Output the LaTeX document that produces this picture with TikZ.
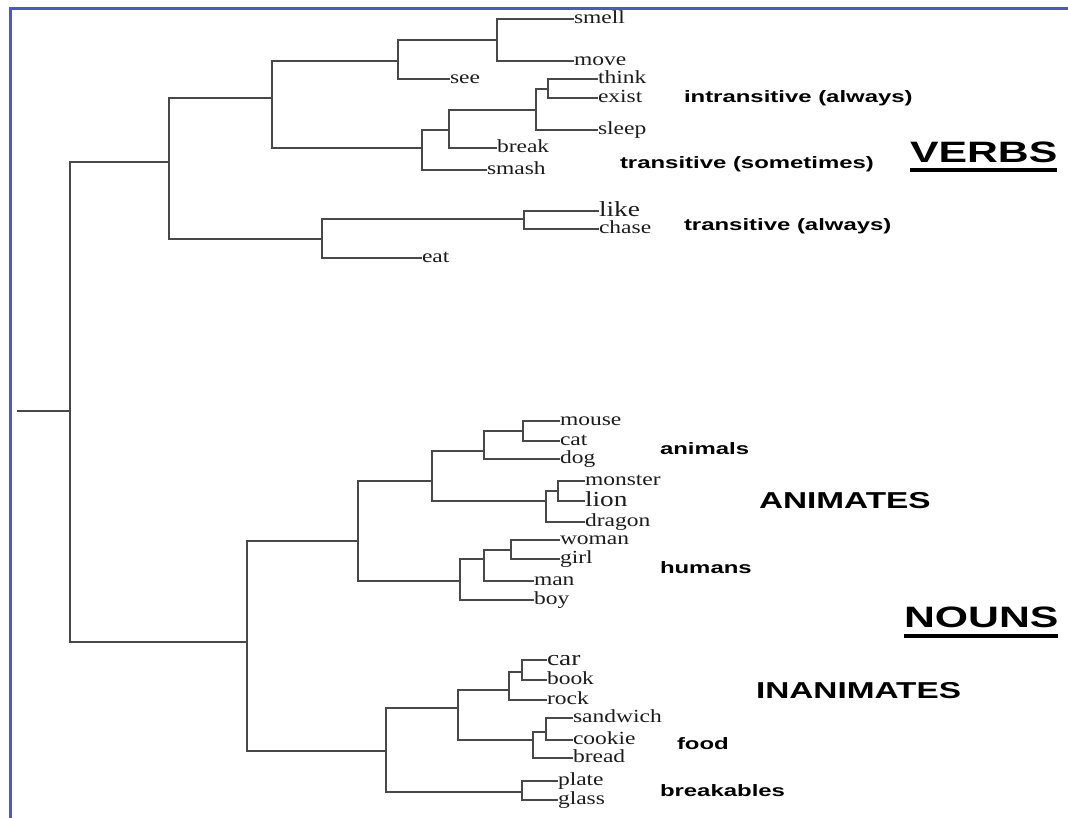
\documentclass[tikz,border=0pt]{standalone}
\usepackage{fontspec}
\newfontfamily\leaffont[FakeStretch=1.27]{Liberation Serif}
\newfontfamily\tagfont[FakeStretch=1.45]{Liberation Sans}
\definecolor{frameblue}{RGB}{80,88,186}
\definecolor{treegrey}{RGB}{72,72,72}
\definecolor{leafgrey}{RGB}{28,28,28}
\tikzset{
  branch/.style={draw=treegrey, line width=1.7pt},
  leaf/.style={anchor=west, inner sep=0pt, outer sep=0pt, text=leafgrey,
    font=\leaffont\fontsize{18.5}{18.5}\selectfont, text height=10pt, text depth=0.5pt},
  bigleaf/.style={leaf, font=\leaffont\fontsize{21.5}{21.5}\selectfont, text height=11pt},
  tag/.style={anchor=west, inner sep=0pt, outer sep=0pt, text=black,
    font=\tagfont\bfseries\fontsize{16.5}{16.5}\selectfont, text height=12pt, text depth=0pt},
  bigtag/.style={tag, font=\tagfont\bfseries\fontsize{23}{23}\selectfont, text height=16.5pt},
  hugetag/.style={tag, font=\tagfont\bfseries\fontsize{29.5}{29.5}\selectfont, text height=21pt},
  rule/.style={draw=black, line width=4pt},
}
\begin{document}
\begin{tikzpicture}[x=1pt, y=-1pt]
\useasboundingbox (0,0) rectangle (1068,818);

% frame
\draw[frameblue, line width=2.5pt] (1068,8.5) -- (10.5,8.5) -- (10.5,818);

% ---------- verb leaves ----------
\node[leaf] (smell) at (574,19) {smell};
\node[leaf] (move)  at (574,61) {move};
\node[leaf] (see)   at (450,79) {see};
\node[leaf] (think) at (598,79) {think};
\node[leaf] (exist) at (598,98) {exist};
\node[leaf] (sleep) at (598,130) {sleep};
\node[leaf] (break) at (497,148) {break};
\node[leaf] (smash) at (487,170) {smash};
\node[bigleaf] (like)  at (599,211) {like};
\node[leaf] (chase) at (599,229) {chase};
\node[leaf] (eat)   at (422,258) {eat};

% verb junctions
\coordinate (vsm)    at (497,40);
\coordinate (vsee)   at (398,61);
\coordinate (vte)    at (548,89);
\coordinate (vtes)   at (536,110);
\coordinate (vbreak) at (449,130);
\coordinate (vsmash) at (422,148);
\coordinate (vintr)  at (272,98);
\coordinate (vlike)  at (524,219);
\coordinate (veat)   at (322,239);
\coordinate (vverbs) at (169,162);

\draw[branch] (smell.west) -| (vsm) |- (move.west);
\draw[branch] (vsm) -| (vsee) |- (see.west);
\draw[branch] (think.west) -| (vte) |- (exist.west);
\draw[branch] (vte) -| (vtes) |- (sleep.west);
\draw[branch] (vtes) -| (vbreak) |- (break.west);
\draw[branch] (vbreak) -| (vsmash) |- (smash.west);
\draw[branch] (vsee) -| (vintr) |- (vsmash);
\draw[branch] (like.west) -| (vlike) |- (chase.west);
\draw[branch] (vlike) -| (veat) |- (eat.west);
\draw[branch] (vintr) -| (vverbs) |- (veat);

% ---------- noun leaves ----------
\node[leaf] (mouse)   at (560,421) {mouse};
\node[leaf] (cat)     at (560,441) {cat};
\node[leaf] (dog)     at (560,459) {dog};
\node[leaf] (monster) at (585,481) {monster};
\node[bigleaf] (lion) at (585,501) {lion};
\node[leaf] (dragon)  at (585,522) {dragon};
\node[leaf] (woman)   at (560,540) {woman};
\node[leaf] (girl)    at (560,559) {girl};
\node[leaf] (man)     at (534,581) {man};
\node[leaf] (boy)     at (534,600) {boy};
\node[bigleaf] (car)  at (547,660) {car};
\node[leaf] (book)    at (547,680) {book};
\node[leaf] (rock)    at (547,700) {rock};
\node[leaf] (sandwich) at (573,718) {sandwich};
\node[leaf] (cookie)  at (573,740) {cookie};
\node[leaf] (bread)   at (573,758) {bread};
\node[leaf] (plate)   at (558,781) {plate};
\node[leaf] (glass)   at (558,800) {glass};

% noun junctions
\coordinate (nmc)    at (523,431);
\coordinate (ndog)   at (484,451);
\coordinate (nml)    at (558,491);
\coordinate (ndr)    at (546,501);
\coordinate (nanim)  at (432,481);
\coordinate (nwg)    at (511,550);
\coordinate (nman)   at (484,559);
\coordinate (nhum)   at (460,581);
\coordinate (nanimates) at (358,541);
\coordinate (ncb)    at (522,672);
\coordinate (nrock)  at (509,690);
\coordinate (nsc)    at (546,732);
\coordinate (nbread) at (533,740);
\coordinate (nfood)  at (458,708);
\coordinate (npg)    at (522,792);
\coordinate (ninan)  at (386,751);
\coordinate (nnouns) at (247,642);

\draw[branch] (mouse.west) -| (nmc) |- (cat.west);
\draw[branch] (nmc) -| (ndog) |- (dog.west);
\draw[branch] (monster.west) -| (nml) |- (lion.west);
\draw[branch] (nml) -| (ndr) |- (dragon.west);
\draw[branch] (ndog) -| (nanim) |- (ndr);
\draw[branch] (woman.west) -| (nwg) |- (girl.west);
\draw[branch] (nwg) -| (nman) |- (man.west);
\draw[branch] (nman) -| (nhum) |- (boy.west);
\draw[branch] (nanim) -| (nanimates) |- (nhum);
\draw[branch] (car.west) -| (ncb) |- (book.west);
\draw[branch] (ncb) -| (nrock) |- (rock.west);
\draw[branch] (sandwich.west) -| (nsc) |- (cookie.west);
\draw[branch] (nsc) -| (nbread) |- (bread.west);
\draw[branch] (nrock) -| (nfood) |- (nbread);
\draw[branch] (plate.west) -| (npg) |- (glass.west);
\draw[branch] (nfood) -| (ninan) |- (npg);
\draw[branch] (nanimates) -| (nnouns) |- (ninan);

% root
\coordinate (root) at (70,411);
\coordinate (stub) at (17,411);
\draw[branch] (vverbs) -| (root) |- (nnouns);
\draw[branch] (stub) -- (root);

% ---------- category labels ----------
\node[tag] (intr)  at (684,97)  {intransitive (always)};
\node[tag] (tsome) at (620,163) {transitive (sometimes)};
\node[tag] (talw)  at (684,225) {transitive (always)};
\node[hugetag] (verbs) at (910,152) {VERBS};
\draw[rule] ([yshift=-8pt]verbs.base west) -- ([yshift=-8pt]verbs.base east);

\node[tag] (animals) at (660,448) {animals};
\node[bigtag] (animates) at (759,500) {ANIMATES};
\node[tag] (humans) at (660,567) {humans};
\node[hugetag] (nouns) at (904,617) {NOUNS};
\draw[rule] ([yshift=-8pt]nouns.base west) -- ([yshift=-8pt]nouns.base east);
\node[bigtag] (inanimates) at (756,690) {INANIMATES};
\node[tag] (food) at (677,743) {food};
\node[tag] (breakables) at (660,790) {breakables};
\end{tikzpicture}
\end{document}
